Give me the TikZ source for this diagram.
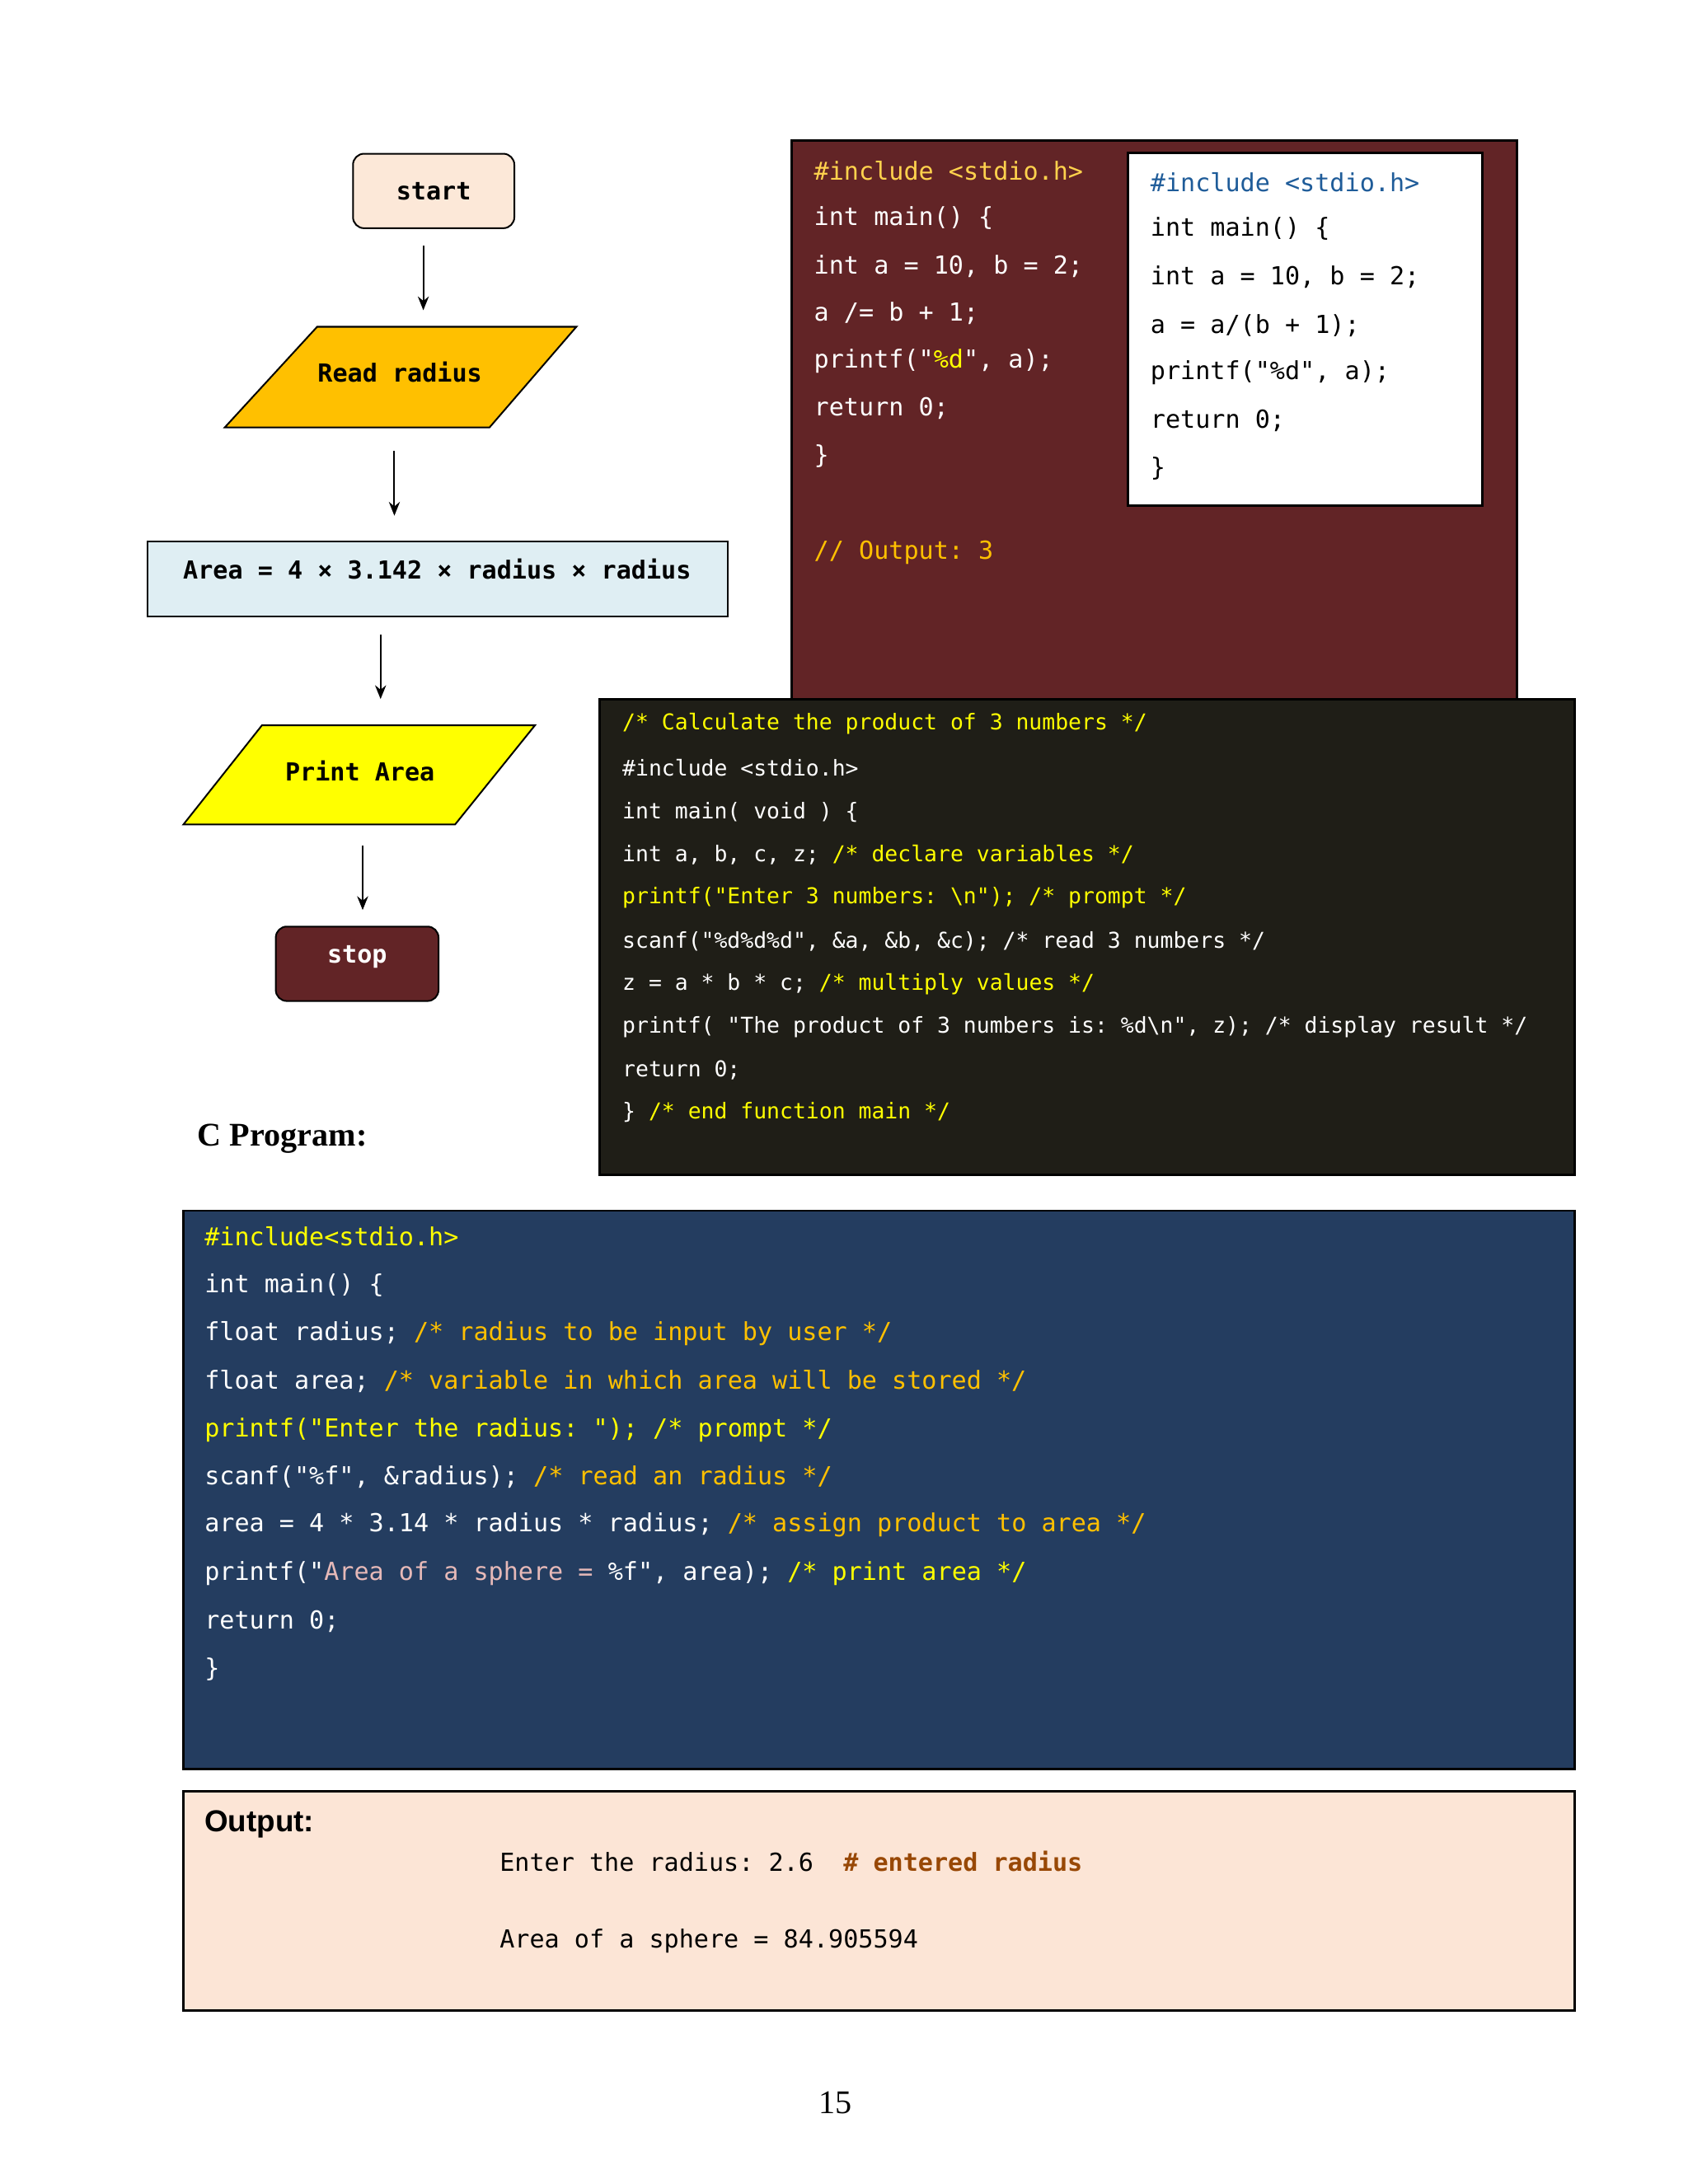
\documentclass[tikz,border=0pt]{standalone}
\usepackage{fontspec}
\setmainfont{Liberation Serif}
\setsansfont{Liberation Sans}
\setmonofont{DejaVu Sans Mono}
\usetikzlibrary{arrows.meta,shapes.geometric}
\definecolor{maroon}{HTML}{622426}
\definecolor{blackbox}{HTML}{1F1E17}
\definecolor{bluebox}{HTML}{243D60}
\definecolor{outbg}{HTML}{FCE5D6}
\definecolor{startbg}{HTML}{FCE8D8}
\definecolor{readbg}{HTML}{FFC000}
\definecolor{areabg}{HTML}{DFEEF3}
\definecolor{ylw}{HTML}{FFFF00}
\definecolor{gold}{HTML}{FFC000}
\definecolor{lgold}{HTML}{FFD24D}
\definecolor{pinkish}{HTML}{E6B9B8}
\definecolor{incblue}{HTML}{1F5C99}
\definecolor{brownish}{HTML}{984806}
\newcommand\codeln[5][white]{\node[codet,text=#1] (#2) at (#3,#4) {#5};}
\begin{document}
\begin{tikzpicture}[x=0.5pt,y=-0.5pt,
  codet/.style={anchor=west,inner sep=0pt,font=\ttfamily\fontsize{9}{10}\selectfont},
  codes/.style={anchor=west,inner sep=0pt,font=\ttfamily\fontsize{7.9}{9}\selectfont},
  flow/.style={draw,line width=0.6pt,font=\ttfamily\bfseries\fontsize{9}{10}\selectfont},
  arr/.style={-{Stealth[length=5pt,width=4pt]},line width=0.6pt}]
\useasboundingbox (0,0) rectangle (1224,1584);
\fill[white] (0,0) rectangle (1224,1584);
% flowchart
\node[flow,rounded corners=4pt,fill=startbg,minimum width=58.5pt,minimum height=27pt] (start) at (314.5,138.5) {start};
\coordinate (a1s) at (307,178); \coordinate (a1e) at (307,225);
\draw[arr] (a1s) -- (a1e);
\draw[flow,fill=readbg] (230,237) -- (418,237) -- (355,310) -- (163,310) -- cycle;
\node[font=\ttfamily\bfseries\fontsize{9}{10}\selectfont] (read) at (290,270) {Read radius};
\coordinate (a2s) at (286,327); \coordinate (a2e) at (286,374);
\draw[arr] (a2s) -- (a2e);
\node[flow,fill=areabg,minimum width=210.5pt,minimum height=27pt] (area) at (317.5,420) {};
\node[font=\ttfamily\bfseries\fontsize{9}{10}\selectfont] (areat) at (317,413) {Area = 4 × 3.142 × radius × radius};
\coordinate (a3s) at (276,460); \coordinate (a3e) at (276,507);
\draw[arr] (a3s) -- (a3e);
\draw[flow,fill=ylw] (190,526) -- (388,526) -- (330,598) -- (133,598) -- cycle;
\node[font=\ttfamily\bfseries\fontsize{9}{10}\selectfont] (print) at (261,559) {Print Area};
\coordinate (a4s) at (263,613); \coordinate (a4e) at (263,660);
\draw[arr] (a4s) -- (a4e);
\node[flow,rounded corners=4pt,fill=maroon,text=white,minimum width=59pt,minimum height=27pt] (stop) at (259,699) {};
\node[font=\ttfamily\bfseries\fontsize{9}{10}\selectfont,text=white] (stopt) at (259,694) {stop};
\node[anchor=west,inner sep=0pt,font=\bfseries\fontsize{12}{14}\selectfont] (cprog) at (143,826) {C Program:};
\node[inner sep=0pt,font=\fontsize{12}{14}\selectfont] (pg) at (606,1525) {15};
% maroon box
\draw[fill=maroon,line width=0.8pt] (574,102) rectangle (1100,507);
\draw[fill=white,line width=0.9pt] (818,111) rectangle (1075,367);
\codeln[lgold]{m1}{590}{124}{\#include <stdio.h>}
\codeln{m2}{590}{158}{int main() \{}
\codeln{m3}{590}{193}{int a = 10, b = 2;}
\codeln{m4}{590}{227}{a /= b + 1;}
\codeln{m5}{590}{262}{printf("\textcolor{ylw}{\%d}", a);}
\codeln{m6}{590}{296}{return 0;}
\codeln{m7}{590}{331}{\}}
\codeln[gold]{m8}{590}{401}{// Output: 3}
\codeln[incblue]{w1}{834}{132}{\#include <stdio.h>}
\codeln[black]{w2}{834}{166}{int main() \{}
\codeln[black]{w3}{834}{201}{int a = 10, b = 2;}
\codeln[black]{w4}{834}{236}{a = a/(b + 1);}
\codeln[black]{w5}{834}{270}{printf("\%d", a);}
\codeln[black]{w6}{834}{305}{return 0;}
\codeln[black]{w7}{834}{340}{\}}
% black box
\draw[fill=blackbox,line width=0.8pt] (435,507) rectangle (1142,852);
\node[codes,text=ylw] (b1) at (451,525) {/* Calculate the product of 3 numbers */};
\node[codes,text=white] (b2) at (451,557) {\#include <stdio.h>};
\node[codes,text=white] (b3) at (451,589) {int main( void ) \{};
\node[codes,text=white] (b4) at (451,620) {int a, b, c, z; \textcolor{ylw}{/* declare variables */}};
\node[codes,text=ylw] (b5) at (451,651) {printf("Enter 3 numbers: \textbackslash n"); /* prompt */};
\node[codes,text=white] (b6) at (451,683) {scanf("\%d\%d\%d", \&a, \&b, \&c); /* read 3 numbers */};
\node[codes,text=white] (b7) at (451,714) {z = a * b * c; \textcolor{ylw}{/* multiply values */}};
\node[codes,text=white] (b8) at (451,745) {printf( "The product of 3 numbers is: \%d\textbackslash n", z); /* display result */};
\node[codes,text=white] (b9) at (451,776) {return 0;};
\node[codes,text=white] (b10) at (451,807) {\} \textcolor{ylw}{/* end function main */}};
% blue box
\draw[fill=bluebox,line width=0.8pt] (133,878) rectangle (1142,1283);
\codeln[ylw]{c1}{148}{897}{\#include<stdio.h>}
\codeln{c2}{148}{932}{int main() \{}
\codeln{c3}{148}{967}{float radius; \textcolor{gold}{/* radius to be input by user */}}
\codeln{c4}{148}{1002}{float area; \textcolor{gold}{/* variable in which area will be stored */}}
\codeln[ylw]{c5}{148}{1037}{printf("Enter the radius: "); /* prompt */}
\codeln{c6}{148}{1071}{scanf("\%f", \&radius); \textcolor{gold}{/* read an radius */}}
\codeln{c7}{148}{1106}{area = 4 * 3.14 * radius * radius; \textcolor{gold}{/* assign product to area */}}
\codeln{c8}{148}{1141}{printf("\textcolor{pinkish}{Area of a sphere = }\%f", area); \textcolor{ylw}{/* print area */}}
\codeln{c9}{148}{1176}{return 0;}
\codeln{c10}{148}{1211}{\}}
% output box
\draw[fill=outbg,line width=0.8pt] (133,1299) rectangle (1142,1458);
\node[anchor=west,inner sep=0pt,font=\sffamily\bfseries\fontsize{11}{13}\selectfont] (outl) at (148,1323) {Output:};
\codeln[black]{o1}{362}{1350}{Enter the radius: 2.6\ \ \textcolor{brownish}{\bfseries\# entered radius}}
\codeln[black]{o2}{362}{1408}{Area of a sphere = 84.905594}
\end{tikzpicture}
\end{document}
